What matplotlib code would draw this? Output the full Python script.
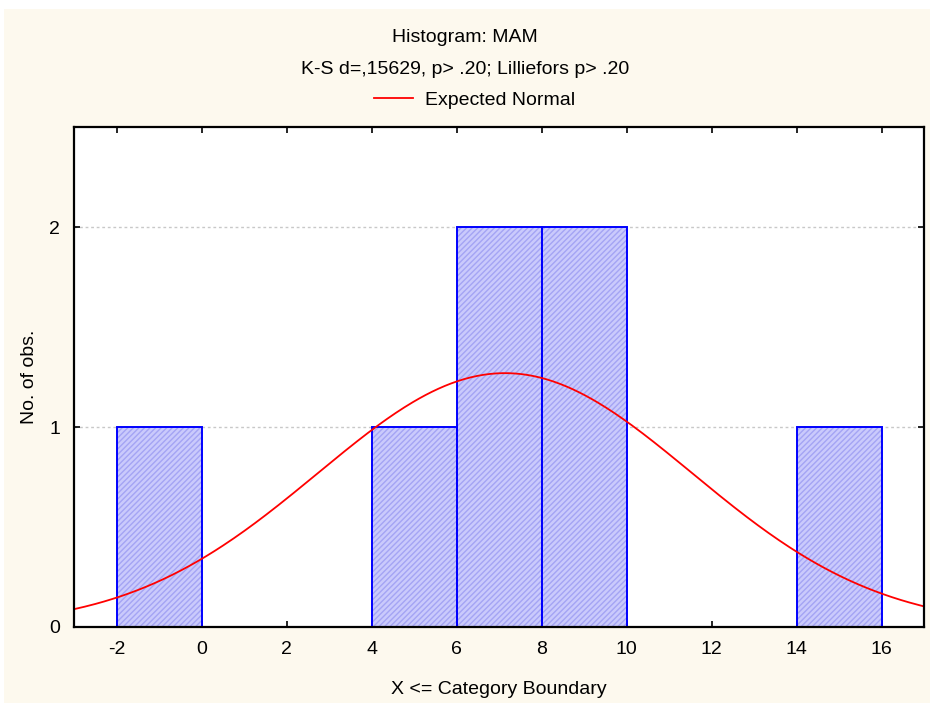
import numpy as np
import matplotlib
matplotlib.use("Agg")
import matplotlib.pyplot as plt
from matplotlib.patches import Rectangle

plt.rcParams['font.family'] = ['Liberation Sans', 'DejaVu Sans']
plt.rcParams['axes.unicode_minus'] = False

# histogram bins (upper category boundaries) and counts
bin_left = [-2, 4, 6, 8, 14]
counts = [1, 1, 2, 2, 1]
bin_width = 2
# expected normal fitted to the data
n_obs = 7
mean = 7.14
sd = 4.40
xticks = [-2, 0, 2, 4, 6, 8, 10, 12, 14, 16]
yticks = [0, 1, 2]

fig = plt.figure(figsize=(9.3, 7.06), dpi=100, facecolor='white')
fig.patches.append(Rectangle((4 / 930, 3 / 706), 926 / 930, 694 / 706,
                             transform=fig.transFigure, facecolor='#fdf9ee',
                             edgecolor='none', zorder=-1))

ax = fig.add_axes([0.0796, 0.1119, 0.9140, 0.7082])
ax.set_facecolor('white')

# hatched fill, then blue outline
ax.bar(bin_left, counts, width=bin_width, align='edge', color='#cacafc',
       edgecolor='#a4a4f4', hatch='//////', linewidth=0, zorder=2)
ax.bar(bin_left, counts, width=bin_width, align='edge', fill=False,
       edgecolor='#0000ff', linewidth=1.4, zorder=3)

xs = np.linspace(-3, 17, 400)
ys = n_obs * bin_width * np.exp(-0.5 * ((xs - mean) / sd) ** 2) / (sd * np.sqrt(2 * np.pi))
ax.plot(xs, ys, color='#ff0000', linewidth=1.3, zorder=4, label='Expected Normal')

ax.set_xlim(-3, 17)
ax.set_ylim(0, 2.5)
ax.set_xticks(xticks)
ax.set_yticks(yticks)
ax.tick_params(direction='in', length=4, width=1.2, labelsize=14, pad=10,
               top=True, right=True, colors='black')
ax.tick_params(axis='y', pad=10)
ax.yaxis.grid(True, color='#c8c8c8', linestyle=(0, (2, 2)), linewidth=1)
ax.set_axisbelow(True)
for s in ax.spines.values():
    s.set_linewidth(1.6)
    s.set_zorder(5)

ax.set_xlabel('X <= Category Boundary', fontsize=14, labelpad=17)
ax.set_ylabel('No. of obs.', fontsize=14, labelpad=8)

fig.text(0.5, 1 - 37 / 706, 'Histogram: MAM', ha='center', va='center', fontsize=14)
fig.text(0.5, 1 - 69 / 706, 'K-S d=,15629, p> .20; Lilliefors p> .20',
         ha='center', va='center', fontsize=14)
fig.legend(loc='center', bbox_to_anchor=(0.51, 1 - 100 / 706), frameon=False,
           fontsize=14, handlelength=2.0, handletextpad=0.6)

fig.savefig('out.png', dpi=100, facecolor=fig.get_facecolor())
